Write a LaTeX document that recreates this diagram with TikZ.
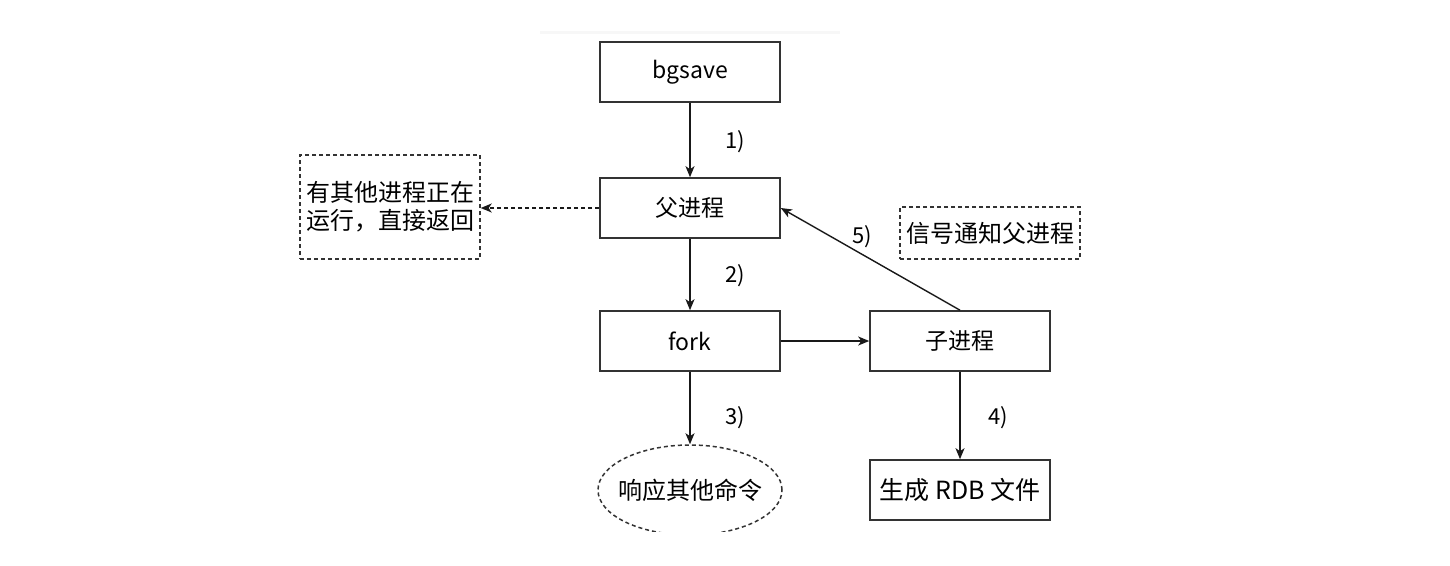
\documentclass[tikz,border=0pt]{standalone}
\usepackage{fontspec}
\setmainfont{Noto Sans CJK SC}
\usetikzlibrary{arrows.meta,shapes.geometric}
\begin{document}
\begin{tikzpicture}[x=1pt,y=-1pt,
  box/.style={draw=black!80,line width=1.6pt,minimum width=180pt,minimum height=60pt,inner sep=0pt,font=\fontsize{23}{27}\selectfont},
  note/.style={draw=black!80,line width=1.4pt,dash pattern=on 4pt off 3pt,inner sep=0pt,font=\fontsize{24}{28}\selectfont,align=center},
  conn/.style={draw=black!90,line width=1.4pt,-{Stealth[length=11pt,width=9pt,inset=3pt]}},
  lbl/.style={font=\fontsize{22}{26}\selectfont}]
\useasboundingbox (0,0) rectangle (1450,565);
\fill[white] (0,0) rectangle (1450,565);
\draw[black!3,line width=3pt] (540,32) -- (840,32);
\node[box] (bg) at (690,72) {bgsave};
\node[box] (par) at (690,208) {父进程};
\node[box] (fork) at (690,341) {fork};
\node[box] (child) at (960,341) {子进程};
\node[box,font=\fontsize{25}{29}\selectfont] (rdb) at (960,490) {生成 RDB 文件};
\node[note,minimum width=180pt,minimum height=104pt] (busy) at (390,207) {有其他进程正在\\运行，直接返回};
\node[note,minimum width=180pt,minimum height=52pt] (sig) at (990,233) {信号通知父进程};
\begin{scope}
\clip (0,0) rectangle (1450,531);
\node[ellipse,draw=black!80,line width=1.5pt,dash pattern=on 4pt off 3pt,minimum width=184pt,minimum height=90pt,inner sep=0pt] (resp) at (690,490) {};
\end{scope}
\node[font=\fontsize{24}{28}\selectfont] (resptext) at (resp.center) {响应其他命令};
\draw[conn] (bg) -- (par);
\draw[conn] (par) -- (fork);
\draw[conn] (fork) -- (resp);
\draw[conn] (fork) -- (child);
\draw[conn] (child) -- (rdb);
\draw[conn] (child.north) -- (par.east);
\draw[conn,dash pattern=on 4pt off 3pt] (par) -- (busy.east |- par);
\node[lbl] (l1) at (735,142) {1)};
\node[lbl] (l2) at (735,276) {2)};
\node[lbl] (l3) at (735,418) {3)};
\node[lbl] (l4) at (998,418) {4)};
\node[lbl] (l5) at (862,237) {5)};
\end{tikzpicture}
\end{document}
